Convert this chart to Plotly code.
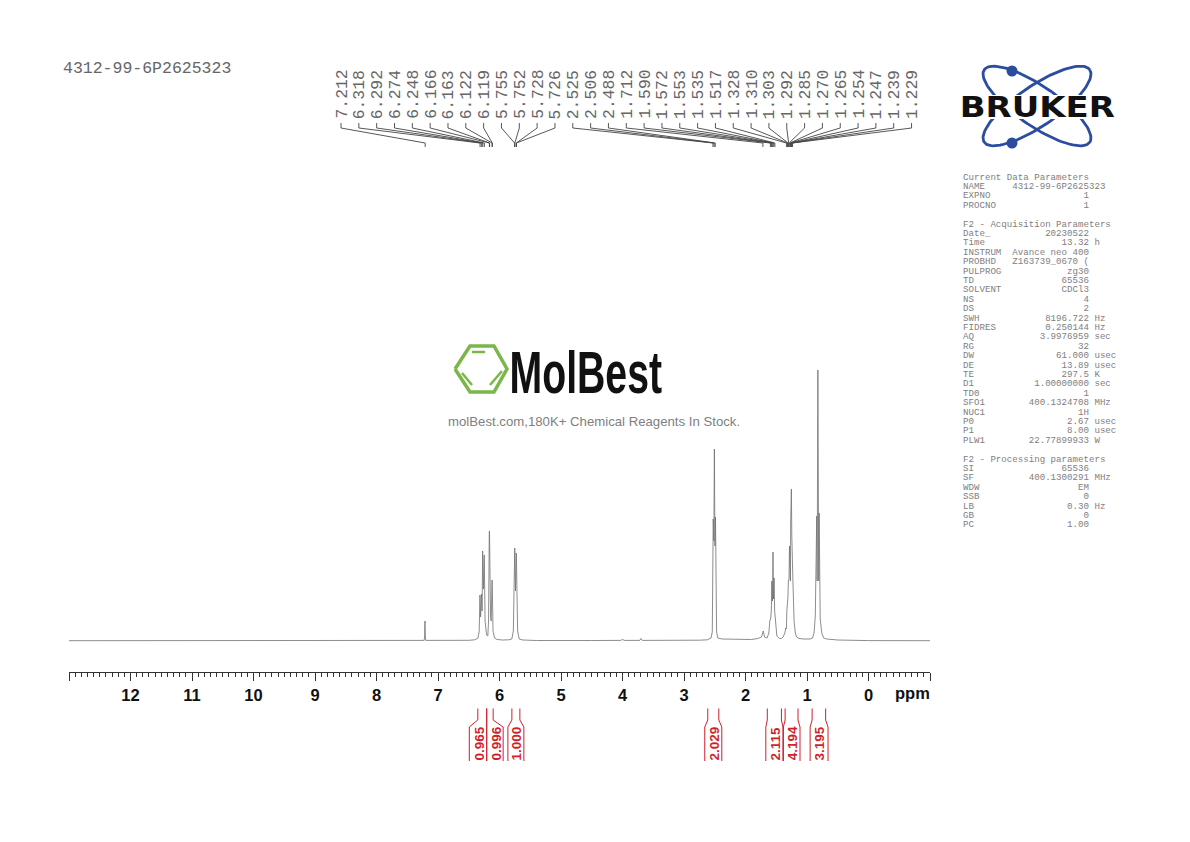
import numpy as np
import plotly.graph_objects as go

W, H = 1190, 842

# spectrum (ppm, height above baseline)
ppm = [13.0, 9.0, 8.0, 7.3, 7.225, 7.218, 7.212, 7.206, 7.198, 6.9, 6.5, 6.40, 6.35, 6.33, 6.318, 6.307, 6.292, 6.283,
       6.274, 6.262, 6.248, 6.235, 6.21, 6.19, 6.178, 6.166, 6.163, 6.145, 6.135, 6.122, 6.119, 6.105, 6.08, 6.04,
       5.95, 5.85, 5.80, 5.775, 5.755, 5.752, 5.74, 5.728, 5.726, 5.705, 5.68, 5.62, 5.4, 4.5, 4.03, 4.0, 3.97,
       3.72, 3.70, 3.68, 3.3, 2.75, 2.62, 2.56, 2.54, 2.525, 2.515, 2.506, 2.497, 2.488, 2.47, 2.45, 2.38, 2.30,
       2.15, 2.0, 1.9, 1.8, 1.74, 1.712, 1.69, 1.65, 1.62, 1.605, 1.59, 1.58, 1.572, 1.562, 1.553, 1.544, 1.535,
       1.526, 1.517, 1.49, 1.45, 1.42, 1.39, 1.36, 1.345, 1.335, 1.328, 1.31, 1.303, 1.292, 1.285, 1.27, 1.265,
       1.254, 1.247, 1.239, 1.229, 1.21, 1.19, 1.17, 1.13, 1.05, 1.0, 0.95, 0.91, 0.885, 0.865, 0.842, 0.835,
       0.823, 0.81, 0.803, 0.785, 0.76, 0.73, 0.68, 0.5, 0.3, 0.0, -1.0]
intensity = [0.3, 0.3, 0.3, 0.4, 0.6, 4, 20, 4, 0.6, 0.5, 0.7, 1.2, 3, 10, 46, 24, 47, 30,
             90, 52, 86, 20, 6, 5, 20, 109, 110, 24, 20, 60, 61, 10, 3, 1.5,
             1.0, 1.2, 2, 10, 92, 93, 50, 88, 87, 10, 2, 1, 0.5, 0.5, 0.6, 1.5, 0.6,
             0.6, 2.5, 0.6, 0.5, 0.8, 1.2, 3, 9, 122, 100, 192, 95, 124, 9, 3, 2.0, 1.8,
             1.5, 1.5, 1.5, 2.5, 4, 10, 4, 3, 8, 20, 23, 30, 60, 40, 89, 42, 63,
             30, 23, 5, 2.5, 2.5, 4, 8, 13, 12, 30, 44, 60, 62, 95, 60, 120,
             152, 105, 60, 60, 20, 8, 4, 2.5, 2, 1.8, 2, 3, 8, 25, 125, 60,
             271, 60, 128, 22, 8, 3, 2, 1, 0.5, 0.4, 0.3]

# peak picking list
peak_labels = ["7.212", "6.318", "6.292", "6.274", "6.248", "6.166", "6.163", "6.122", "6.119",
               "5.755", "5.752", "5.728", "5.726", "2.525", "2.506", "2.488", "1.712", "1.590",
               "1.572", "1.553", "1.535", "1.517", "1.328", "1.310", "1.303", "1.292", "1.285",
               "1.270", "1.265", "1.254", "1.247", "1.239", "1.229"]

# integrals
integral_labels = ["0.965", "0.996", "1.000", "2.029", "2.115", "4.194", "3.195"]
integral_start = [6.355, 6.21, 5.80, 2.61, 1.64, 1.35, 0.91]
integral_end = [6.21, 6.105, 5.67, 2.43, 1.41, 1.14, 0.69]

axis_ticks = [13, 12, 11, 10, 9, 8, 7, 6, 5, 4, 3, 2, 1, 0, -1]
axis_text = ["", "12", "11", "10", "9", "8", "7", "6", "5", "4", "3", "2", "1", "0", ""]

# acquisition parameters panel
param_names = ["NAME", "EXPNO", "PROCNO", "", "Date_", "Time", "INSTRUM", "PROBHD", "PULPROG", "TD", "SOLVENT", "NS", "DS",
               "SWH", "FIDRES", "AQ", "RG", "DW", "DE", "TE", "D1", "TD0", "SFO1", "NUC1", "P0", "P1", "PLW1", "",
               "SI", "SF", "WDW", "SSB", "LB", "GB", "PC"]
param_values = ["4312-99-6P2625323", "1", "1", "", "20230522", "13.32", "Avance neo 400", "Z163739_0670 (", "zg30",
                "65536", "CDCl3", "4", "2", "8196.722", "0.250144", "3.9976959", "32", "61.000", "13.89", "297.5",
                "1.00000000", "1", "400.1324708", "1H", "2.67", "8.00", "22.77899933", "",
                "65536", "400.1300291", "EM", "0", "0.30", "0", "1.00"]
param_units = ["", "", "", "", "", "h", "", "", "", "", "", "", "", "Hz", "Hz", "sec", "", "usec", "usec", "K", "sec", "",
               "MHz", "", "usec", "usec", "W", "", "", "MHz", "", "", "Hz", "", ""]


def ppm_x(p):
    return 868 - 61.4 * p


fig = go.Figure()

fig.add_trace(go.Scatter(x=ppm, y=intensity, mode="lines", line=dict(color="#707070", width=0.8),
                         xaxis="x", yaxis="y", hoverinfo="skip"))

# everything around the spectrum goes on a page-sized overlay axis
def page_line(xs, ys, color, width):
    fig.add_trace(go.Scatter(x=xs, y=ys, mode="lines", line=dict(color=color, width=width),
                             xaxis="x2", yaxis="y2", hoverinfo="skip"))


# peak leaders
lx, ly = [], []
for i, lab in enumerate(peak_labels):
    x0 = 341 + 17.83 * i
    x1 = ppm_x(float(lab))
    lx += [x0, x0, x1, x1, None]
    ly += [123, 128, 143, 147, None]
page_line(lx, ly, "#444444", 0.9)

# integral brackets, feet flare out by a few pixels
flare_left = [8.5, 0, 4, 3, 1.5, 1.7, 2]
flare_right = [0, 10, 4, 3, 1.5, 2, 2.4]
for a, b, fl, fr in zip(integral_start, integral_end, flare_left, flare_right):
    xa, xb = ppm_x(a), ppm_x(b)
    page_line([xa, xa, xa - fl, xa - fl, None, xb, xb, xb + fr, xb + fr],
              [708.5, 720, 727, 761, None, 708.5, 720, 727, 761], "#d11f2c", 1.0)

# Bruker logo
t = np.linspace(0, 2 * np.pi, 120)
for ang in [np.radians(34.5), np.radians(-34.5)]:
    ex = 64 * np.cos(t)
    ey = 20 * np.sin(t)
    page_line(1037 + ex * np.cos(ang) - ey * np.sin(ang), 106 + ex * np.sin(ang) + ey * np.cos(ang), "#2b4c9f", 2.8)
page_line([955, 1119], [107, 107], "white", 24)
fig.add_trace(go.Scatter(x=[1012, 1012], y=[71, 143], mode="markers", marker=dict(size=11, color="#2b4c9f"),
                         xaxis="x2", yaxis="y2", hoverinfo="skip"))

# MolBest logo
page_line([455, 470, 494, 507, 494, 470, 455], [369, 346, 346, 369, 392, 392, 369], "#7ab648", 3.5)
page_line([472, 485, None, 462, 472, None, 490, 502], [352, 352, None, 373, 385, None, 385, 371], "#7ab648", 2.5)


def text(px, py, s, size, color, family="Liberation Mono", xanchor="left", angle=0, weight=None):
    fig.add_annotation(x=px / W, y=1 - py / H, xref="paper", yref="paper", text=s, showarrow=False, textangle=angle,
                       xanchor=xanchor, yanchor="middle", borderpad=0, borderwidth=0,
                       font=dict(size=size, color=color, family=family, weight=weight))


text(63, 68, "4312-99-6P2625323", 16.5, "#666666")
text(912.5, 693, "ppm", 16.5, "#111111", "Liberation Sans", "center", weight=700)
text(594, 421, "molBest.com,180K+ Chemical Reagents In Stock.", 13.2, "#808080", "Liberation Sans", "center")
text(586, 373, "MolBest", 40, "#111111", "Liberation Sans", "center", weight=700)
text(1037, 107, "BRUKER", 29, "#111111", "DejaVu Sans", "center", weight=700)

for i, lab in enumerate(peak_labels):
    text(342 + 17.83 * i, 94.5, lab, 16.4, "#666666", xanchor="center", angle=-90)

label_x = [479, 496, 516, 714, 775, 792.7, 819]
for x, lab in zip(label_x, integral_labels):
    text(x, 743.5, lab, 13.5, "#d11f2c", "Liberation Sans", "center", angle=-90, weight=700)

# parameter panel
NB = "\u00a0"
lines = ["Current Data Parameters"]
for n, v, u in zip(param_names[:3], param_values[:3], param_units[:3]):
    lines.append(n.ljust(9) + v if n == "NAME" else n.ljust(8) + v.rjust(15))
lines += ["", "F2 - Acquisition Parameters"]
for n, v, u in zip(param_names[4:27], param_values[4:27], param_units[4:27]):
    lines.append(n.ljust(8) + v.rjust(15) + " " + u)
lines += ["", "F2 - Processing parameters"]
for n, v, u in zip(param_names[28:], param_values[28:], param_units[28:]):
    lines.append(n.ljust(8) + v.rjust(15) + " " + u)
for i, line in enumerate(lines):
    if line:
        text(963, 177 + 9.405 * i, line.rstrip().replace(" ", NB), 9.13, "#808080")

fig.update_layout(
    width=W, height=H, showlegend=False, plot_bgcolor="rgba(0,0,0,0)", paper_bgcolor="white",
    margin=dict(l=0, r=0, t=0, b=0),
    xaxis=dict(domain=[69 / W, 930 / W], range=[13, -1], anchor="y", showgrid=False, zeroline=False, showline=True,
               linecolor="#333333", linewidth=1, ticks="outside", ticklen=8, tickcolor="#333333", tickwidth=1,
               tickmode="array", tickvals=axis_ticks, ticktext=axis_text,
               tickfont=dict(size=16.5, family="Liberation Sans", color="#111111", weight=700),
               minor=dict(ticks="outside", ticklen=4, tickmode="linear", tick0=0, dtick=0.1, tickcolor="#333333",
                          tickwidth=1, showgrid=False)),
    yaxis=dict(domain=[(H - 672) / H, (H - 360) / H], range=[-31, 281], visible=False),
    xaxis2=dict(domain=[0, 1], range=[0, W], visible=False, anchor="y2"),
    yaxis2=dict(domain=[0, 1], range=[H, 0], visible=False, anchor="x2"),
)

# no body margin, and stretch the two logo words to their drawn proportions
post = """
document.body.style.margin = '0';
document.body.style.overflow = 'hidden';
document.querySelectorAll('.annotation-text').forEach(function (el) {
    var s = null;
    if (el.textContent === 'MolBest') s = 'scale(0.98,1.48)';
    if (el.textContent === 'BRUKER') s = 'scale(1.17,1)';
    if (s) {
        el.style.transformBox = 'fill-box';
        el.style.transformOrigin = 'center';
        el.style.transform = s;
    }
});
"""
fig.write_html("out.html", post_script=post, config=dict(displayModeBar=False))
